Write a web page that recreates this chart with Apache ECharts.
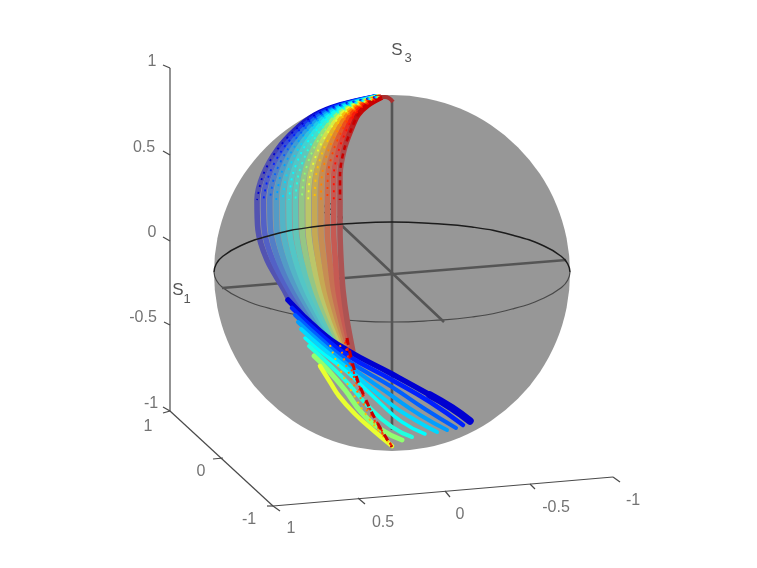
<!DOCTYPE html>
<html>
<head>
<meta charset="utf-8">
<style>
  html, body { margin: 0; background: #fff; }
  #mychart { width: 757px; height: 568px; filter: blur(0.5px); }
</style>
<script src="https://cdn.jsdelivr.net/npm/echarts@6/dist/echarts.min.js"></script>
</head>
<body>
<div id="mychart"></div>
<script>
// plane of the projection, origin in the middle of the sphere, radius 178
const sphereCentre = [0, -1];
const sphereRadius = 178;

const bandColors = ['#0000d0', '#0020ff', '#0060ff', '#00a0ff', '#00d8ff', '#00ffff', '#20ffe0',
  '#90ff70', '#e8ff30', '#ffc000', '#ff8000', '#ff4000', '#ff1000', '#c80000'];
// how far down (0-1) the rear band keeps its bright colour
const fadeEnds = [0.32, 0.3, 0.28, 0.26, 0.24, 0.24, 0.24, 0.24, 0.24, 0.24, 0.24, 0.24, 0.24, 0.24];

// rear part of the bands: v of each row, then u of each band on that row
const rearRows = [175, 167, 157, 142, 122, 97, 72, 42, 12, -18, -48];
const rearU = [
  [-17, -52, -77, -97, -115, -129, -135, -134, -125, -108],
  [-16.5, -49.9, -73.7, -92.7, -109.9, -123.1, -128.6, -127.7, -119.3, -103.5],
  [-15.9, -47.7, -70.4, -88.4, -104.7, -117.2, -122.2, -121.4, -113.6, -99],
  [-15.4, -45.6, -67.1, -84.1, -99.6, -111.3, -115.8, -115.1, -107.9, -94.5, -76.6],
  [-14.8, -43.4, -63.8, -79.8, -94.4, -105.4, -109.4, -108.8, -102.2, -90, -73.4],
  [-14.3, -41.3, -60.5, -75.5, -89.3, -99.5, -103, -102.5, -96.5, -85.5, -70.3],
  [-13.8, -39.1, -57.2, -71.2, -84.1, -93.6, -96.6, -96.2, -90.8, -81, -67.1],
  [-13.2, -37, -53.9, -66.9, -79, -87.7, -90.2, -89.9, -85.1, -76.5, -64],
  [-12.7, -34.8, -50.6, -62.6, -73.8, -81.8, -83.8, -83.6, -79.4, -72, -60.8],
  [-12.1, -32.7, -47.3, -58.3, -68.7, -75.9, -77.4, -77.3, -73.7, -67.5, -57.7],
  [-11.6, -30.5, -44, -54, -63.5, -70, -71, -71, -68, -63, -54.5],
  [-11.1, -28.4, -40.7, -49.7, -58.4, -64.1, -64.6, -64.7, -62.3, -58.5, -51.4],
  [-10.5, -26.2, -37.4, -45.4, -53.2, -58.2, -58.2, -58.4, -56.6, -54, -48.2],
  [-10, -24, -34, -41, -48, -52, -52, -52, -51, -49, -45]
];
// where each band goes round to the front
const rearEnds = [[-102, -30], [-86, -45], [-80, -48], [-73, -53], [-65, -60], [-61, -63], [-57, -66],
  [-53.5, -69], [-50, -72], [-47, -74], [-45, -76], [-43, -77], [-41, -78], [-39, -80]];

const frontCurves = [
  [[-104, -28], [-72, -59], [-45, -78], [0, -102], [38, -123], [60, -136], [78, -149]],
  [[-100, -36], [-72, -62], [-45, -83], [0, -108], [38, -130], [71, -153]],
  [[-97, -43], [-72, -66], [-45, -88], [0, -115], [33, -137], [64, -156]],
  [[-94, -50], [-72, -70], [-45, -92], [0, -124], [28, -143], [55, -158]],
  [[-91, -57], [-72, -74], [-45, -96], [0, -133], [23, -148], [45, -160]],
  [[-87, -66], [-72, -79], [-45, -100], [-12, -131], [10, -150], [33, -162]],
  [[-83, -74], [-72, -84], [-47, -108], [-22, -136], [0, -155], [20, -165]],
  [[-78, -84], [-65, -97], [-47, -118], [-30, -141], [-10, -158], [10, -168]],
  [[-72, -94], [-62, -110], [-53, -124], [-37, -142], [-18, -159], [0, -174]],
  [[-62, -73], [-54, -93], [-40, -120], [-22, -148], [0, -174]],
  [[-52, -73], [-45, -96], [-34, -121], [-18, -150], [0, -174]],
  [[-47, -70], [-41, -96], [-31, -121], [-16, -151], [0, -174]],
  [[-46, -68], [-39, -98], [-28, -124], [-14, -152], [0, -174]],
  [[-45, -66], [-37, -100], [-27, -126], [-14, -152], [0, -175]]
];
const frontWidths = [5.5, 4.5, 4, 4, 4, 3.5, 4, 5, 4.5, 2, 2, 2, 2, 3];
const frontDash = [null, null, null, null, null, null, null, null, null, [2, 5], [2, 5], [2, 5], [3, 5], [7, 6]];
const blueEnd = [[38, -123], [60, -136], [78, -149]];
const topCap = [[1, 170], [-7, 175], [-17, 175]];

// equator of the sphere and the three axes through it
const equatorBack = [[-178, 0], [-176, 7.5], [-170, 15], [-152, 26], [-120, 37], [-80, 45], [-40, 48.5], [0, 50],
  [40, 48.5], [80, 45], [120, 37], [152, 26], [170, 15], [176, 7.5], [178, 0]];
const equatorFront = [[-178, 0], [-176, -7.5], [-170, -15], [-152, -26], [-120, -37], [-80, -45], [-40, -48.5], [0, -50],
  [40, -48.5], [80, -45], [120, -37], [152, -26], [170, -15], [176, -7.5], [178, 0]];
const innerAxes = [
  [[0, 170], [0, -158]],
  [[-170, -16], [174, 12]],
  [[-54, 50], [52, -50]]
];

// outer box axes with their ticks
const boxLines = [
  [[-222, 204], [-222, -139]],
  [[-222, -139], [-119, -234]],
  [[-119, -234], [221, -205]],
  [[-229, 207], [-222, 204]],
  [[-229, 121], [-222, 117]],
  [[-229, 35], [-222, 31]],
  [[-228, -50], [-222, -53]],
  [[-229, -135], [-222, -139]],
  [[-229, -141], [-222, -139]],
  [[-179, -187], [-169, -186]],
  [[-125, -234], [-119, -234]],
  [[-119, -234], [-112, -239]],
  [[-34, -226], [-27, -232]],
  [[53, -219], [58, -225]],
  [[138, -212], [143, -217]],
  [[221, -205], [228, -210]]
];
const tickLabels = [
  [-240, 210, '1'], [-248, 124, '0.5'], [-240, 39, '0'], [-249, -46, '-0.5'], [-241, -132, '-1'],
  [-244, -155, '1'], [-191, -200, '0'], [-143, -248, '-1'],
  [-101, -257, '1'], [-9, -251, '0.5'], [68, -243, '0'], [164, -236, '-0.5'], [241, -229, '-1']
];
const axisNames = [[-214, -18, 'S'], [-63, 62, 'S'], [5, 222, 'S']];
const axisSubs = [[-205, -27, '1'], [-52, 52, '2'], [16, 214, '3']];

function lineSeries(data, color, width, extra) {
  return Object.assign({
    type: 'line',
    data: data,
    symbol: 'none',
    silent: true,
    clip: false,
    animation: false,
    lineStyle: { color: color, width: width, cap: 'butt', join: 'round' }
  }, extra || {});
}

function textSeries(data, size, color) {
  return {
    type: 'scatter',
    data: data,
    symbolSize: 1,
    silent: true,
    animation: false,
    itemStyle: { color: 'transparent' },
    labelLayout: { hideOverlap: false },
    label: {
      show: true,
      position: 'inside',
      align: 'center',
      verticalAlign: 'middle',
      fontFamily: 'Liberation Sans',
      fontSize: size,
      color: color,
      formatter: function (p) { return p.data[2]; }
    }
  };
}

function rearPoints(i) {
  let pts = rearU[i].map(function (u, k) { return [u, rearRows[k]]; });
  pts.push(rearEnds[i]);
  return pts;
}

let series = [];

series.push({
  type: 'custom',
  data: [sphereCentre],
  silent: true,
  clip: false,
  animation: false,
  renderItem: function (params, api) {
    let c = api.coord([api.value(0), api.value(1)]);
    let r = api.size([sphereRadius, 0])[0];
    return { type: 'circle', shape: { cx: c[0], cy: c[1], r: r }, style: { fill: '#979797' } };
  }
});

boxLines.forEach(function (seg) { series.push(lineSeries(seg, '#4a4a4a', 1.2)); });
series.push(lineSeries(equatorFront, '#484848', 1.2, { smooth: true }));
innerAxes.forEach(function (seg) { series.push(lineSeries(seg, '#555555', 2.6)); });

// rear bands fade into the sphere colour as they go down
bandColors.forEach(function (color, i) {
  let muted = echarts.color.lerp(0.55, [color, '#979797']);
  series.push(lineSeries(rearPoints(i), new echarts.graphic.LinearGradient(0, 0, 0, 1, [
    { offset: 0, color: color },
    { offset: 0.05, color: color },
    { offset: fadeEnds[i], color: muted },
    { offset: 1, color: muted }
  ]), 5.6, { smooth: 0.3 }));
});
series.push(lineSeries(topCap, '#a83030', 4, { smooth: true }));
series.push(lineSeries(equatorBack, '#1c1c1c', 1.5, { smooth: true }));

// bright dots that poke through on the upper part
bandColors.forEach(function (color, i) {
  let dots = lineSeries(rearPoints(i).slice(0, 7), color, i == 13 ? 2.6 : 1.8, { smooth: 0.3 });
  dots.lineStyle.type = i == 13 ? [5, 4] : [2, 5];
  series.push(dots);
});

// later bands first so the yellow edge lies under the cyan and blue strips
frontCurves.forEach(function (curve, i) {
  let front = lineSeries(curve, bandColors[i], frontWidths[i], { smooth: 0.5 });
  if (frontDash[i]) {
    front.lineStyle.type = frontDash[i];
  } else {
    front.lineStyle.cap = 'round';
  }
  series.push(front);
});
let blueTip = lineSeries(blueEnd, bandColors[0], 7.5, { smooth: 0.5 });
blueTip.lineStyle.cap = 'round';
series.push(blueTip);

series.push(textSeries(tickLabels, 16, '#505050'));
series.push(textSeries(axisNames, 17, '#2a2a2a'));
series.push(textSeries(axisSubs, 13, '#2a2a2a'));

let mychart = echarts.init(document.getElementById('mychart'));
mychart.setOption({
  backgroundColor: '#ffffff',
  animation: false,
  grid: { left: 0, right: 0, top: 0, bottom: 0 },
  xAxis: { type: 'value', min: -392, max: 365, show: false },
  yAxis: { type: 'value', min: -296, max: 272, show: false },
  series: series
});
</script>
</body>
</html>
